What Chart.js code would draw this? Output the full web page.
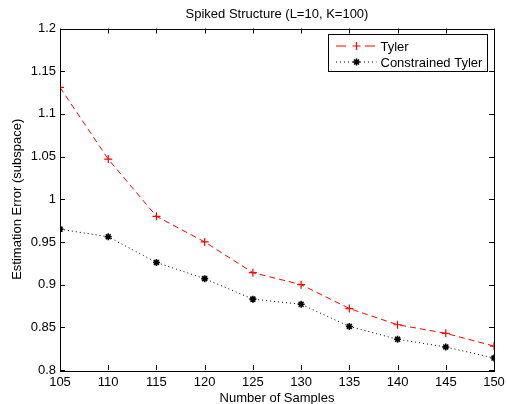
<!DOCTYPE html>
<html>
<head>
<meta charset="utf-8">
<script src="https://cdn.jsdelivr.net/npm/chart.js@4/dist/chart.umd.min.js"></script>
<style>
  body { margin: 0; background: #fff; }
  #wrap { width: 507px; height: 404px; }
</style>
</head>
<body>
<div id="wrap"><canvas id="data-chart"></canvas></div>
<script>
// Data
const samples = [105, 110, 115, 120, 125, 130, 135, 140, 145, 150];
const tyler = [1.131, 1.047, 0.980, 0.950, 0.914, 0.900, 0.872, 0.853, 0.843, 0.828];
const constrainedTyler = [0.965, 0.956, 0.926, 0.907, 0.883, 0.877, 0.851, 0.836, 0.827, 0.814];
const xTicks = [105, 110, 115, 120, 125, 130, 135, 140, 145, 150];
const yTicks = ["0.8", "0.85", "0.9", "0.95", "1", "1.05", "1.1", "1.15", "1.2"];
const titleText = "Spiked Structure (L=10, K=100)";

const FONT = "'Liberation Sans', Arial, Helvetica, sans-serif";

function points(values) {
  return samples.map((x, i) => ({ x: x, y: values[i] }));
}

// MATLAB-like box with inward ticks on all four sides, title and legend
const boxPlugin = {
  id: "box",
  afterDraw(chart) {
    const { ctx, chartArea: a, scales } = chart;
    ctx.save();
    ctx.strokeStyle = "#000";
    ctx.lineWidth = 1;
    ctx.strokeRect(Math.round(a.left) + 0.5, Math.round(a.top) + 0.5,
      Math.round(a.right - a.left), Math.round(a.bottom - a.top));
    ctx.beginPath();
    xTicks.forEach(v => {
      const px = Math.round(scales.x.getPixelForValue(v)) + 0.5;
      ctx.moveTo(px, a.bottom); ctx.lineTo(px, a.bottom - 5);
      ctx.moveTo(px, a.top); ctx.lineTo(px, a.top + 5);
    });
    yTicks.forEach(t => {
      const py = Math.round(scales.y.getPixelForValue(parseFloat(t))) + 0.5;
      ctx.moveTo(a.left, py); ctx.lineTo(a.left + 5, py);
      ctx.moveTo(a.right, py); ctx.lineTo(a.right - 5, py);
    });
    ctx.stroke();

    // title centred over the plot area
    ctx.fillStyle = "#000";
    ctx.font = "13px " + FONT;
    ctx.textAlign = "center";
    ctx.textBaseline = "middle";
    ctx.fillText(titleText, (a.left + a.right) / 2, 14);

    // legend box in the top right corner
    const lx = 328.5, ly = 34.5, lw = 159, lh = 37;
    const legendDash = [[10, 19], [1, 3]];
    ctx.fillStyle = "#fff";
    ctx.fillRect(lx, ly, lw, lh);
    ctx.strokeRect(lx, ly, lw, lh);
    ctx.textAlign = "left";
    chart.data.datasets.forEach((ds, i) => {
      const y = ly + 11.5 + i * 16;
      ctx.strokeStyle = ds.borderColor;
      ctx.lineWidth = 1;
      ctx.setLineDash(legendDash[i]);
      ctx.beginPath();
      ctx.moveTo(lx + 7.5, y); ctx.lineTo(lx + 48, y);
      ctx.stroke();
      ctx.setLineDash([]);
      ctx.lineWidth = ds.pointBorderWidth;
      Chart.helpers.drawPoint(ctx, { pointStyle: ds.pointStyle, radius: ds.pointRadius, borderWidth: ds.pointBorderWidth }, lx + 28, y);
      ctx.fillStyle = "#000";
      ctx.fillText(ds.label, lx + 52, y + 1);
    });
    ctx.restore();
  }
};

function createChart() {
  const ctx = document.getElementById("data-chart").getContext("2d");
  new Chart(ctx, {
    type: "line",
    data: {
      datasets: [
        {
          label: "Tyler",
          data: points(tyler),
          borderColor: "#ff0000",
          borderWidth: 1,
          borderDash: [6, 4],
          pointStyle: "cross",
          pointRadius: 4,
          pointBorderWidth: 1.2,
          pointBorderColor: "#ff0000",
          fill: false,
        },
        {
          label: "Constrained Tyler",
          data: points(constrainedTyler),
          borderColor: "#000000",
          borderWidth: 1,
          borderDash: [1, 3],
          pointStyle: "star",
          pointRadius: 3.5,
          pointBorderWidth: 1.6,
          pointBorderColor: "#000000",
          fill: false,
        },
      ],
    },
    options: {
      responsive: true,
      maintainAspectRatio: false,
      animation: false,
      layout: { padding: { left: 0, right: 13, top: 28.5, bottom: 0 } },
      plugins: {
        legend: { display: false },
        tooltip: { enabled: false },
        title: { display: false },
      },
      scales: {
        x: {
          type: "linear",
          min: 105,
          max: 150,
          afterBuildTicks: s => { s.ticks = xTicks.map(v => ({ value: v })); },
          afterFit: s => { s.height = 34; s.paddingLeft = 0; s.paddingRight = 0; },
          grid: { display: false, drawTicks: false },
          border: { display: false },
          ticks: {
            color: "#000",
            padding: 5,
            maxRotation: 0,
            font: { family: FONT, size: 13 },
          },
          title: {
            display: true,
            text: "Number of Samples",
            color: "#000",
            padding: { top: 0, bottom: -2 },
            font: { family: FONT, size: 13 },
          },
        },
        y: {
          type: "linear",
          min: 0.8,
          max: 1.2,
          afterBuildTicks: s => { s.ticks = yTicks.map(t => ({ value: parseFloat(t) })); },
          afterFit: s => { s.width = 60; s.paddingTop = 0; s.paddingBottom = 0; },
          grid: { display: false, drawTicks: false },
          border: { display: false },
          ticks: {
            color: "#000",
            padding: 4,
            font: { family: FONT, size: 13 },
            callback: v => yTicks.find(t => Math.abs(parseFloat(t) - v) < 1e-9),
          },
          title: {
            display: true,
            text: "Estimation Error (subspace)",
            color: "#000",
            padding: { top: 10, bottom: 0 },
            font: { family: FONT, size: 13 },
          },
        },
      },
    },
    plugins: [boxPlugin],
  });
}

document.addEventListener("DOMContentLoaded", function () {
  createChart();
});
</script>
</body>
</html>
